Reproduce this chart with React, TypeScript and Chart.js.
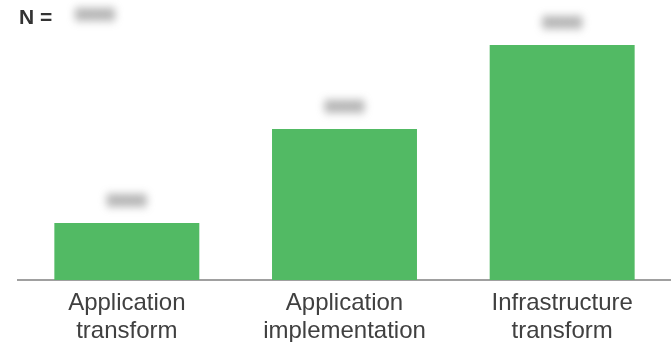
import React, { useEffect, useRef } from "react";
import { Chart, registerables } from "chart.js";

Chart.register(...registerables);

const categories: string[][] = [
  ["Application", "transform"],
  ["Application", "implementation"],
  ["Infrastructure", "transform"],
];
const values: number[] = [24.3, 64.3, 100];
const valueLabels: string[] = ["0000", "0000", "0000"];
const nLabel = "N =";
const nValue = "0000";

const GREEN = "#52BA64";

const labelsPlugin = {
  id: "blurLabels",
  afterDraw(chart: any) {
    const ctx = chart.ctx as CanvasRenderingContext2D;
    const meta = chart.getDatasetMeta(0);
    ctx.save();
    ctx.fillStyle = "#333333";
    ctx.font = "bold 21px 'Liberation Sans', Arial, sans-serif";
    ctx.textAlign = "left";
    ctx.textBaseline = "middle";
    ctx.fillText(nLabel, 19, 18);
    ctx.filter = "blur(4.5px)";
    ctx.fillStyle = "#6a6a6a";
    ctx.font = "bold 18px 'Liberation Sans', Arial, sans-serif";
    ctx.textAlign = "center";
    ctx.fillText(nValue, 95, 16);
    meta.data.forEach((bar: any, i: number) => {
      ctx.fillText(valueLabels[i], bar.x, bar.y - 21);
    });
    ctx.restore();
  },
};

export default function App() {
  const ref = useRef<HTMLCanvasElement>(null);
  useEffect(() => {
    if (!ref.current) return;
    const chart = new Chart(ref.current, {
      type: "bar",
      data: {
        labels: categories,
        datasets: [
          {
            data: values,
            backgroundColor: GREEN,
            borderWidth: 0,
            barPercentage: 0.666,
            categoryPercentage: 1,
          },
        ],
      },
      options: {
        animation: false,
        responsive: false,
        maintainAspectRatio: false,
        layout: { padding: { left: 18, right: 0, top: 45, bottom: 0 } },
        plugins: {
          legend: { display: false },
          tooltip: { enabled: false },
          title: { display: false },
        },
        scales: {
          x: {
            grid: { display: false, drawTicks: false },
            border: { display: true, color: "#a0a0a0", width: 2 },
            afterFit: (scale: any) => {
              scale.height = 62;
            },
            ticks: {
              color: "#404040",
              padding: 9,
              maxRotation: 0,
              autoSkip: false,
              font: { family: "'Liberation Sans', Arial, sans-serif", size: 24, lineHeight: 1.17 },
            },
          },
          y: {
            display: false,
            min: 0,
            max: 100,
          },
        },
      },
      plugins: [labelsPlugin],
    });
    return () => chart.destroy();
  }, []);
  return (
    <div style={{ position: "fixed", left: 0, top: 0, width: 671, height: 342, background: "#fff" }}>
      <canvas ref={ref} width={671} height={342} style={{ display: "block", width: 671, height: 342 }} />
    </div>
  );
}
